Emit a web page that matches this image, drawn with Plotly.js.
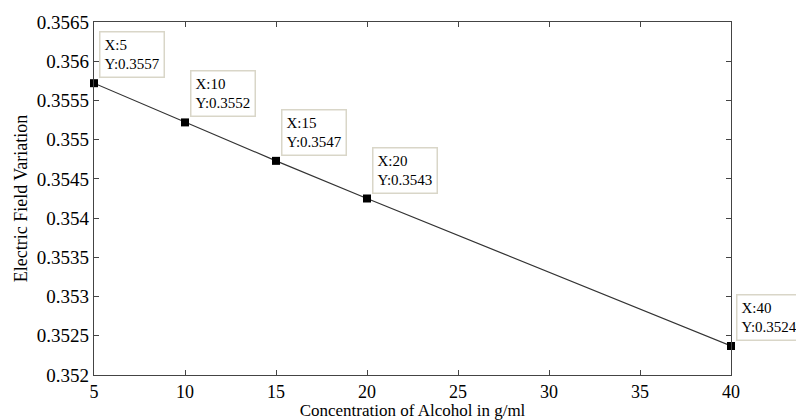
<!DOCTYPE html>
<html>
<head>
<meta charset="utf-8">
<script src="https://cdn.plot.ly/plotly-3.0.1.min.js"></script>
<style>html,body{margin:0;padding:0;background:#fff;}#chart{width:796px;height:420px;}</style>
</head>
<body>
<div id="chart"></div>
<script>
const concentration = [5, 10, 15, 20, 40];
const fieldVariation = [0.35572, 0.35522, 0.35473, 0.35425, 0.35237];
const tipLabelsX = ["5", "10", "15", "20", "40"];
const tipLabelsY = ["0.3557", "0.3552", "0.3547", "0.3543", "0.3524"];
const xTickVals = [5, 10, 15, 20, 25, 30, 35, 40];
const yTickVals = [0.352, 0.3525, 0.353, 0.3535, 0.354, 0.3545, 0.355, 0.3555, 0.356, 0.3565];
const yTickText = ["0.352", "0.3525", "0.353", "0.3535", "0.354", "0.3545", "0.355", "0.3555", "0.356", "0.3565"];

const font = "Liberation Serif";

const trace = {
  x: concentration,
  y: fieldVariation,
  type: "scatter",
  mode: "lines+markers",
  line: {color: "#333333", width: 1.2},
  marker: {symbol: "square", size: 8, color: "#000000"},
  cliponaxis: false,
  hoverinfo: "skip"
};

const annotations = concentration.map((x, i) => ({
  x: x, y: fieldVariation[i], xref: "x", yref: "y",
  text: "X:" + tipLabelsX[i] + "<br>Y:" + tipLabelsY[i],
  showarrow: false, xanchor: "left", yanchor: "bottom",
  xshift: 5, yshift: 5, align: "left",
  font: {family: font, size: 15, color: "black"},
  bgcolor: "white", bordercolor: "#d9d6c8", borderwidth: 1.5, borderpad: 4
}));

const layout = {
  width: 796, height: 420,
  margin: {l: 94, r: 65, t: 22, b: 45},
  paper_bgcolor: "white", plot_bgcolor: "white",
  showlegend: false,
  xaxis: {
    range: [5, 40], tickvals: xTickVals,
    tickfont: {family: font, size: 18, color: "black"},
    ticks: "inside", ticklen: 5, tickcolor: "#444444",
    showline: true, linecolor: "#444444", linewidth: 1.3,
    mirror: "ticks", showgrid: false, zeroline: false,
    title: {text: "Concentration of Alcohol in g/ml", font: {family: font, size: 17, color: "black"}, standoff: 0}
  },
  yaxis: {
    range: [0.352, 0.3565], tickvals: yTickVals, ticktext: yTickText,
    tickfont: {family: font, size: 19, color: "black"},
    ticks: "inside", ticklen: 5, tickcolor: "#444444",
    showline: true, linecolor: "#444444", linewidth: 1.3,
    mirror: "ticks", showgrid: false, zeroline: false,
    title: {text: "Electric Field Variation", font: {family: font, size: 18, color: "black"}, standoff: 4}
  },
  annotations: annotations
};

Plotly.newPlot("chart", [trace], layout, {displayModeBar: false});
</script>
</body>
</html>
